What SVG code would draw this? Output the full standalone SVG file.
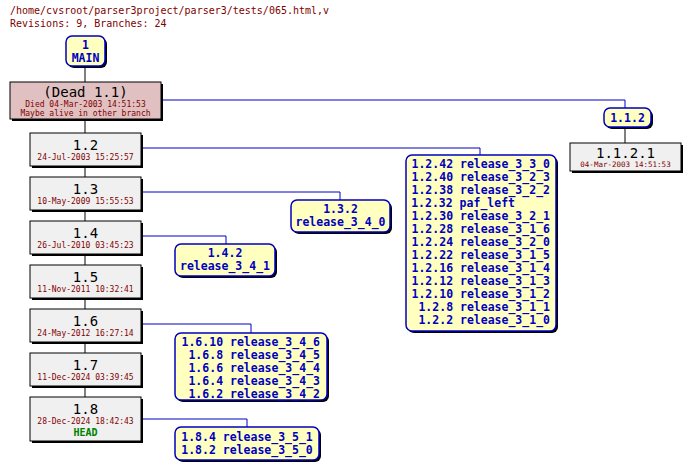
<svg xmlns="http://www.w3.org/2000/svg" width="690" height="469" viewBox="0 0 690 469">
<style>
text{font-family:"DejaVu Sans Mono","Liberation Mono",monospace;}
.t{font-size:10px;fill:#800000}
.sh{fill:#000}
.rev{fill:#f0f0f0;stroke:#000;stroke-width:1}
.tag{fill:#ffffc0;stroke:#0000c0;stroke-width:1.5}
.big{font-size:14px;text-anchor:middle;fill:#000}
.d{font-size:8px;text-anchor:middle;fill:#800000}
.b{font-size:11.5px;font-weight:bold;fill:#0000c0}
.c line,.c path{stroke:#0000c0;fill:none}
</style>
<rect width="690" height="469" fill="#fff"/>
<text class="t" x="10" y="14">/home/cvsroot/parser3project/parser3/tests/065.html,v</text>
<text class="t" x="10" y="27">Revisions: 9, Branches: 24</text>
<g class="c">
<line x1="85" y1="66" x2="85" y2="397" style="stroke:#000"/>
<path d="M161 100H625V108"/>
<line x1="625" y1="127" x2="625" y2="143" style="stroke:#000"/>
<path d="M141 148H480V155"/>
<path d="M141 192H340V200"/>
<path d="M141 236H226V244"/>
<path d="M141 324H251V333"/>
<path d="M141 419H247V427"/>
</g>
<g id="n1"><rect x="68" y="38" width="39" height="30" rx="6" class="sh"/><rect x="66" y="36" width="39" height="30" rx="6" class="tag"/>
<text class="b" x="85.5" y="49" text-anchor="middle">1</text><text class="b" x="85.5" y="62" text-anchor="middle">MAIN</text></g>
<g id="n11"><rect x="12" y="84" width="151" height="37" class="sh"/><rect x="10" y="82" width="151" height="37" fill="#e0c0c0" stroke="#000"/>
<text class="big" x="85.5" y="97" style="font-size:14px">(Dead 1.1)</text><text class="d" x="85.5" y="107">Died 04-Mar-2003 14:51:53</text><text class="d" x="85.5" y="116">Maybe alive in other branch</text></g>
<g id="n12"><rect x="32" y="135" width="111" height="33" class="sh"/><rect x="30" y="133" width="111" height="33" class="rev"/><text class="big" x="85.5" y="150">1.2</text><text class="d" x="85.5" y="160">24-Jul-2003 15:25:57</text></g>
<g id="n13"><rect x="32" y="179" width="111" height="33" class="sh"/><rect x="30" y="177" width="111" height="33" class="rev"/><text class="big" x="85.5" y="194">1.3</text><text class="d" x="85.5" y="204">10-May-2009 15:55:53</text></g>
<g id="n14"><rect x="32" y="223" width="111" height="33" class="sh"/><rect x="30" y="221" width="111" height="33" class="rev"/><text class="big" x="85.5" y="238">1.4</text><text class="d" x="85.5" y="248">26-Jul-2010 03:45:23</text></g>
<g id="n15"><rect x="32" y="267" width="111" height="33" class="sh"/><rect x="30" y="265" width="111" height="33" class="rev"/><text class="big" x="85.5" y="282">1.5</text><text class="d" x="85.5" y="292">11-Nov-2011 10:32:41</text></g>
<g id="n16"><rect x="32" y="311" width="111" height="33" class="sh"/><rect x="30" y="309" width="111" height="33" class="rev"/><text class="big" x="85.5" y="326">1.6</text><text class="d" x="85.5" y="336">24-May-2012 16:27:14</text></g>
<g id="n17"><rect x="32" y="355" width="111" height="33" class="sh"/><rect x="30" y="353" width="111" height="33" class="rev"/><text class="big" x="85.5" y="370">1.7</text><text class="d" x="85.5" y="380">11-Dec-2024 03:39:45</text></g>
<g id="n18"><rect x="32" y="399" width="111" height="44" class="sh"/><rect x="30" y="397" width="111" height="44" class="rev"/><text class="big" x="85.5" y="414">1.8</text><text class="d" x="85.5" y="424">28-Dec-2024 18:42:43</text><text x="85.5" y="436" text-anchor="middle" style="font-size:10px;font-weight:bold;fill:#008000">HEAD</text></g>
<g id="n112"><rect x="606" y="110" width="47" height="19" rx="6" class="sh"/><rect x="604" y="108" width="47" height="19" rx="6" class="tag"/><text class="b" x="627.5" y="122" text-anchor="middle">1.1.2</text></g>
<g id="n1121"><rect x="572" y="145" width="111" height="28" class="sh"/><rect x="570" y="143" width="111" height="28" class="rev"/><text class="big" x="625.5" y="158">1.1.2.1</text><text class="d" x="625.5" y="167" style="font-size:7.5px">04-Mar-2003 14:51:53</text></g>
<g id="t12"><rect x="408" y="157" width="150" height="176" rx="6" class="sh"/><rect x="406" y="155" width="150" height="176" rx="6" class="tag"/>
<text class="b" text-anchor="end"><tspan x="550" y="168">1.2.42 release_3_3_0</tspan><tspan x="550" y="181">1.2.40 release_3_2_3</tspan><tspan x="550" y="194">1.2.38 release_3_2_2</tspan><tspan x="515" y="207">1.2.32 paf_left</tspan><tspan x="550" y="220">1.2.30 release_3_2_1</tspan><tspan x="550" y="233">1.2.28 release_3_1_6</tspan><tspan x="550" y="246">1.2.24 release_3_2_0</tspan><tspan x="550" y="259">1.2.22 release_3_1_5</tspan><tspan x="550" y="272">1.2.16 release_3_1_4</tspan><tspan x="550" y="285">1.2.12 release_3_1_3</tspan><tspan x="550" y="298">1.2.10 release_3_1_2</tspan><tspan x="550" y="311">1.2.8 release_3_1_1</tspan><tspan x="550" y="324">1.2.2 release_3_1_0</tspan></text></g>
<g id="t132"><rect x="293" y="202" width="99" height="32" rx="6" class="sh"/><rect x="291" y="200" width="99" height="32" rx="6" class="tag"/><text class="b" text-anchor="middle" x="340.5" y="213">1.3.2</text><text class="b" text-anchor="middle" x="340.5" y="226">release_3_4_0</text></g>
<g id="t142"><rect x="177" y="246" width="100" height="32" rx="6" class="sh"/><rect x="175" y="244" width="100" height="32" rx="6" class="tag"/><text class="b" text-anchor="middle" x="225" y="257">1.4.2</text><text class="b" text-anchor="middle" x="225" y="270">release_3_4_1</text></g>
<g id="t16"><rect x="177" y="335" width="152" height="67" rx="6" class="sh"/><rect x="175" y="333" width="152" height="67" rx="6" class="tag"/>
<text class="b" text-anchor="end"><tspan x="320" y="346">1.6.10 release_3_4_6</tspan><tspan x="320" y="359">1.6.8 release_3_4_5</tspan><tspan x="320" y="372">1.6.6 release_3_4_4</tspan><tspan x="320" y="385">1.6.4 release_3_4_3</tspan><tspan x="320" y="398">1.6.2 release_3_4_2</tspan></text></g>
<g id="t18"><rect x="177" y="429" width="144" height="33" rx="6" class="sh"/><rect x="175" y="427" width="144" height="33" rx="6" class="tag"/>
<text class="b" text-anchor="middle"><tspan x="247" y="441">1.8.4 release_3_5_1</tspan><tspan x="247" y="454">1.8.2 release_3_5_0</tspan></text></g>
</svg>
